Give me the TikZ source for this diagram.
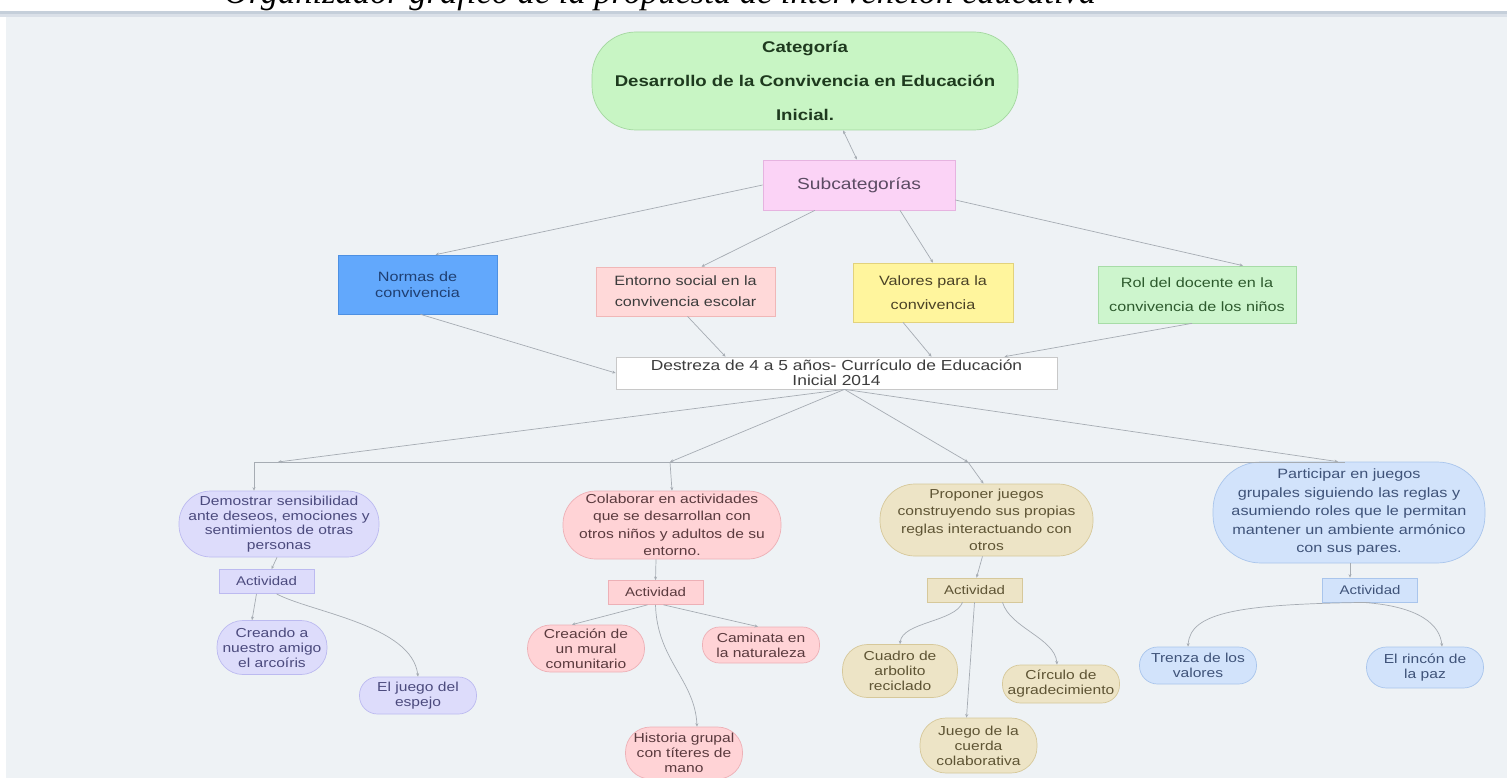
\documentclass[tikz,border=0pt]{standalone}
\usepackage{fontspec}
\setmainfont[FakeStretch=1.2]{Liberation Sans}
\newfontfamily\captionfont{Liberation Serif}
\usetikzlibrary{arrows.meta}

\definecolor{bgcol}{HTML}{EEF2F5}
\definecolor{bandcol}{HTML}{C5CFDA}
\definecolor{linegray}{HTML}{A6ACB3}
\definecolor{txtgray}{HTML}{3C3C3C}
\definecolor{catfill}{HTML}{C8F5C4}
\definecolor{catline}{HTML}{A3D79F}
\definecolor{cattxt}{HTML}{1E3A1E}
\definecolor{subfill}{HTML}{FBD3F6}
\definecolor{subline}{HTML}{E6B3E0}
\definecolor{subtxt}{HTML}{5B4B63}
\definecolor{normfill}{HTML}{62A8FC}
\definecolor{normline}{HTML}{4D90E2}
\definecolor{normtxt}{HTML}{1F3F72}
\definecolor{entfill}{HTML}{FFD9D9}
\definecolor{entline}{HTML}{F0B7B7}
\definecolor{valfill}{HTML}{FFF59D}
\definecolor{valline}{HTML}{E2D27C}
\definecolor{valtxt}{HTML}{4A4226}
\definecolor{rolfill}{HTML}{CDF5CD}
\definecolor{rolline}{HTML}{A7DCA7}
\definecolor{roltxt}{HTML}{2D5A2D}
\definecolor{destline}{HTML}{C8C8C8}
\definecolor{lavfill}{HTML}{DDDCFB}
\definecolor{lavline}{HTML}{BCBAF0}
\definecolor{lavtxt}{HTML}{4B4A7D}
\definecolor{pinkfill}{HTML}{FFD3D6}
\definecolor{pinkline}{HTML}{EDB0B6}
\definecolor{pinktxt}{HTML}{5A3A3E}
\definecolor{tanfill}{HTML}{EDE4C6}
\definecolor{tanline}{HTML}{D6C89A}
\definecolor{tantxt}{HTML}{5E5434}
\definecolor{bluefill}{HTML}{D2E3FB}
\definecolor{blueline}{HTML}{A9C5EC}
\definecolor{bluetxt}{HTML}{3F5379}

\begin{document}
\begin{tikzpicture}[x=1pt, y=-1pt, ->,
            >={Stealth[length=3.5pt,width=3pt]},
            box/.style = {draw, align=center, inner sep=0pt, line width=0.7pt, text=txtgray},
            pill/.style = {box, rounded corners=#1},
            smalltxt/.style = {font=\fontsize{13}{15}\selectfont},
            midtxt/.style = {font=\fontsize{13.5}{#1}\selectfont},
            act/.style = {box, minimum width=95pt, minimum height=24pt,
                font=\fontsize{12.5}{14}\selectfont},
            leaf/.style = {pill=#1, minimum width=117pt, smalltxt},
            link/.style = {draw=linegray, line width=0.7pt},
            every edge/.append style = {link}]
            \useasboundingbox (0,0) rectangle (1507,778);
            \fill[-, white] (0,0) rectangle (1507,778);
            \fill[-, bandcol] (0,11) rectangle (1507,14);
            \fill[-, bandcol!50!bgcol] (0,14) rectangle (1507,17);
            \fill[-, bgcol] (6,17) rectangle (1507,778);
            \node[anchor=base, font=\captionfont\itshape\fontsize{34.5}{34.5}\selectfont] (caption) at (660,4)
                {Organizador gráfico de la propuesta de intervención educativa};
            % categoria y subcategorias
            \node[pill=44pt, fill=catfill, draw=catline, minimum width=426pt, minimum height=98pt,
                text=cattxt, font=\bfseries\fontsize{15.5}{34}\selectfont] (cat) at (805,81)
                {Categoría\\Desarrollo de la Convivencia en Educación\\Inicial.};
            \node[box, fill=subfill, draw=subline, minimum width=192pt, minimum height=50pt,
                text=subtxt, font=\fontsize{16}{18}\selectfont] (sub) at (859,185) {Subcategorías};
            \node[box, fill=normfill, draw=normline, minimum width=159pt, minimum height=59pt,
                text=normtxt, midtxt=16] (normas) at (417.5,284.5) {Normas de\\convivencia};
            \node[box, fill=entfill, draw=entline, minimum width=179pt, minimum height=49pt,
                midtxt=21] (entorno) at (685.5,291.5) {Entorno social en la\\convivencia escolar};
            \node[box, fill=valfill, draw=valline, minimum width=160pt, minimum height=59pt,
                text=valtxt, midtxt=24] (valores) at (933,292.5) {Valores para la\\convivencia};
            \node[box, fill=rolfill, draw=rolline, minimum width=198pt, minimum height=57pt,
                text=roltxt, midtxt=24] (rol) at (1197,294.5) {Rol del docente en la\\convivencia de los niños};
            \node[box, fill=white, draw=destline, minimum width=441pt, minimum height=32pt,
                font=\fontsize{14.5}{15}\selectfont] (destreza) at (836.5,373)
                {Destreza de 4 a 5 años- Currículo de Educación\\Inicial 2014};
            % destrezas
            \node[pill=32pt, fill=lavfill, draw=lavline, text=lavtxt, minimum width=200pt,
                minimum height=66pt, font=\fontsize{13}{14.5}\selectfont] (dem) at (279,524)
                {Demostrar sensibilidad\\ante deseos, emociones y\\sentimientos de otras\\personas};
            \node[pill=33pt, fill=pinkfill, draw=pinkline, text=pinktxt, minimum width=218pt,
                minimum height=68pt, font=\fontsize{13}{17.5}\selectfont] (col) at (672,525)
                {Colaborar en actividades\\que se desarrollan con\\otros niños y adultos de su\\entorno.};
            \node[pill=35pt, fill=tanfill, draw=tanline, text=tantxt, minimum width=213pt,
                minimum height=72pt, font=\fontsize{13}{17.5}\selectfont] (pro) at (986.5,520)
                {Proponer juegos\\construyendo sus propias\\reglas interactuando con\\otros};
            \node[pill=48pt, fill=bluefill, draw=blueline, text=bluetxt, minimum width=272pt,
                minimum height=101pt, midtxt=18.5] (par) at (1349,512.5)
                {Participar en juegos\\grupales siguiendo las reglas y\\asumiendo roles que le permitan\\mantener un ambiente armónico\\con sus pares.};
            % actividades
            \node[act, fill=lavfill, draw=lavline, text=lavtxt] (act1) at (266.5,581.5) {Actividad};
            \node[act, fill=pinkfill, draw=pinkline, text=pinktxt] (act2) at (655.5,592.5) {Actividad};
            \node[act, fill=tanfill, draw=tanline, text=tantxt] (act3) at (974.5,590) {Actividad};
            \node[act, fill=bluefill, draw=blueline, text=bluetxt] (act4) at (1370,590) {Actividad};
            \node[leaf=26pt, fill=lavfill, draw=lavline, text=lavtxt, minimum width=110pt,
                minimum height=54pt] (creando) at (272,647.5) {Creando a\\nuestro amigo\\el arcoíris};
            \node[leaf=18pt, fill=lavfill, draw=lavline, text=lavtxt, minimum height=37pt]
                (espejo) at (418,695.5) {El juego del\\espejo};
            \node[leaf=23pt, fill=pinkfill, draw=pinkline, text=pinktxt, minimum height=47pt]
                (mural) at (586,648.5) {Creación de\\un mural\\comunitario};
            \node[leaf=17pt, fill=pinkfill, draw=pinkline, text=pinktxt, minimum height=36pt]
                (caminata) at (761,645) {Caminata en\\la naturaleza};
            \node[leaf=25pt, fill=pinkfill, draw=pinkline, text=pinktxt, minimum height=52pt]
                (historia) at (684,753) {Historia grupal\\con títeres de\\mano};
            \node[leaf=25pt, fill=tanfill, draw=tanline, text=tantxt, minimum width=115pt,
                minimum height=53pt] (cuadro) at (900,671) {Cuadro de\\arbolito\\reciclado};
            \node[leaf=18pt, fill=tanfill, draw=tanline, text=tantxt, minimum height=38pt]
                (circulo) at (1061,684) {Círculo de\\agradecimiento};
            \node[leaf=26pt, fill=tanfill, draw=tanline, text=tantxt, minimum height=55pt]
                (cuerda) at (978.5,745.5) {Juego de la\\cuerda\\colaborativa};
            \node[leaf=18pt, fill=bluefill, draw=blueline, text=bluetxt, minimum height=37pt]
                (trenza) at (1198,665.5) {Trenza de los\\valores};
            \node[leaf=20pt, fill=bluefill, draw=blueline, text=bluetxt, minimum height=41pt]
                (rincon) at (1425,667.5) {El rincón de\\la paz};
            % conectores
            \path
                ([xshift=38pt]cat.south) edge[<->] ([xshift=-2pt]sub.north)
                (sub.west) edge ([xshift=18pt]normas.north)
                ([xshift=-44pt]sub.south) edge ([xshift=16pt]entorno.north)
                ([xshift=41pt]sub.south) edge (valores.north)
                ([yshift=-15pt]sub.east) edge ([xshift=46pt]rol.north)
                ([xshift=3pt]normas.south) edge (destreza.west)
                ([xshift=2pt]entorno.south) edge ([xshift=-111pt]destreza.north)
                ([xshift=-30pt]valores.south) edge ([xshift=95pt]destreza.north)
                ([xshift=-5pt]rol.south) edge ([xshift=168pt]destreza.north);
            \coordinate (hl) at (254,462);
            \coordinate (hr) at (1345,462);
            \coordinate (h1) at (278,462);
            \coordinate (h2) at (670,462);
            \coordinate (h3) at (968,462);
            \draw[-, link] (hl) -- (hr);
            \path
                ([xshift=8pt]destreza.south) edge (h1)
                ([xshift=8pt]destreza.south) edge (h2)
                ([xshift=8pt]destreza.south) edge (h3)
                ([xshift=8pt]destreza.south) edge ([xshift=-11pt]par.north)
                (hl) edge ([xshift=-25pt]dem.north)
                (h2) edge (col.north)
                (h3) edge ([xshift=-3pt]pro.north)
                ([xshift=-2pt]dem.south) edge ([xshift=5pt]act1.north)
                ([xshift=-16pt]col.south) edge (act2.north)
                ([xshift=-4pt]pro.south) edge ([xshift=2pt]act3.north)
                ([xshift=1pt]par.south) edge ([xshift=-20pt]act4.north)
                ([xshift=-10pt]act1.south) edge ([xshift=-20pt]creando.north)
                ([xshift=-8pt]act2.south) edge ([xshift=-14pt]mural.north)
                ([xshift=8pt]act2.south) edge ([xshift=-3pt]caminata.north)
                (act3.south) edge ([xshift=-12pt]cuerda.north);
            \draw[link] ([xshift=10pt]act1.south) .. controls (310,612) and (412,625) .. (espejo.north);
            \draw[link] (act2.south) .. controls (657,660) and (695,680) .. ([xshift=13pt]historia.north);
            \draw[link] ([xshift=-12pt]act3.south) .. controls (955,622) and (902,622) .. (cuadro.north);
            \draw[link] ([xshift=28pt]act3.south) .. controls (1010,628) and (1055,638) .. ([xshift=-4pt]circulo.north);
            \draw[link] (act4.south) .. controls (1240,604) and (1190,612) .. ([xshift=-10pt]trenza.north);
            \draw[link] ([xshift=-8pt]act4.south) .. controls (1420,606) and (1440,625) .. ([xshift=17pt]rincon.north);
        \end{tikzpicture}
\end{document}
